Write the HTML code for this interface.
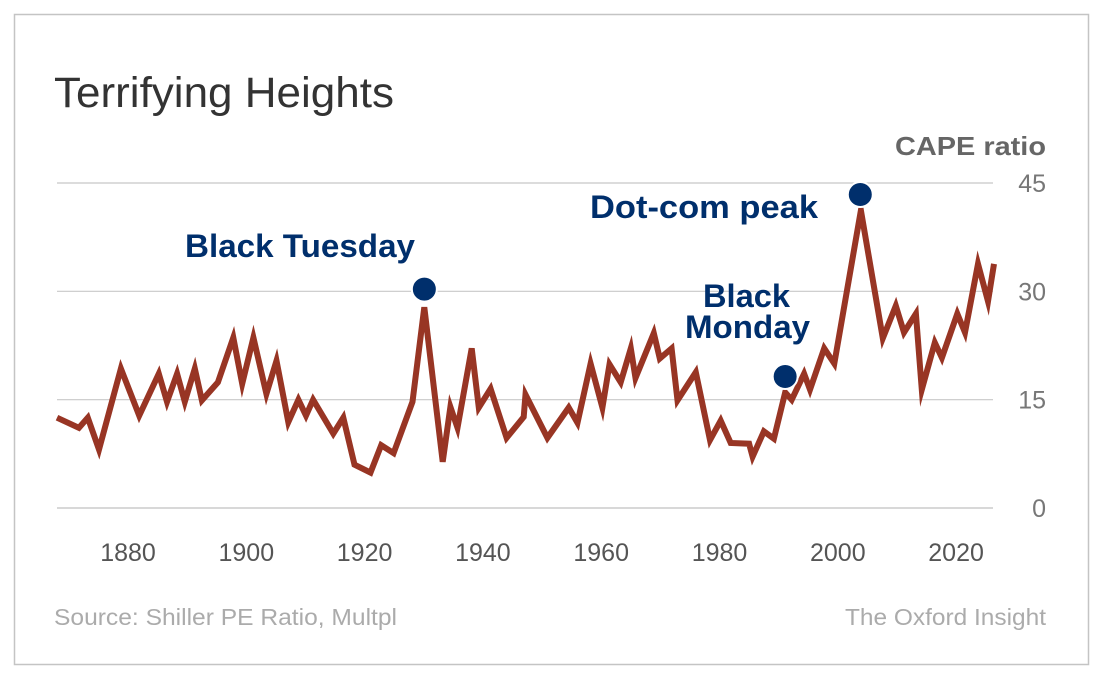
<!DOCTYPE html>
<html><head><meta charset="utf-8"><style>
html,body{margin:0;padding:0;background:#fff;}
svg{display:block;font-family:"Liberation Sans",Arial,sans-serif;}
</style></head><body>
<svg id="chart" width="1100" height="678" viewBox="0 0 1100 678">
<rect x="14.5" y="14.5" width="1074" height="650" fill="#fff" stroke="#c4c4c4" stroke-width="1.5"/>
<text x="54" y="107" font-size="43" fill="#333" textLength="340" lengthAdjust="spacingAndGlyphs">Terrifying Heights</text>
<text x="1046" y="155" font-size="26" font-weight="bold" fill="#666" text-anchor="end" textLength="151" lengthAdjust="spacingAndGlyphs">CAPE ratio</text>
<g id="grid"></g>
<g id="yticks"></g>
<g id="xticks"></g>
<path id="line" fill="none" stroke="#983524" stroke-width="6" stroke-linejoin="miter" stroke-miterlimit="6"/>
<g id="events"></g>
<text x="185" y="257" font-size="32" font-weight="bold" fill="#002f6c" textLength="230" lengthAdjust="spacingAndGlyphs">Black Tuesday</text>
<text x="590" y="218" font-size="32" font-weight="bold" fill="#002f6c" textLength="228" lengthAdjust="spacingAndGlyphs">Dot-com peak</text>
<text font-size="32" font-weight="bold" fill="#002f6c"><tspan x="703" y="307" textLength="87" lengthAdjust="spacingAndGlyphs">Black</tspan><tspan x="685" y="338" textLength="125" lengthAdjust="spacingAndGlyphs">Monday</tspan></text>
<text x="54" y="625" font-size="23" fill="#ababab" textLength="343" lengthAdjust="spacingAndGlyphs">Source: Shiller PE Ratio, Multpl</text>
<text x="1046" y="625" font-size="23" fill="#ababab" text-anchor="end" textLength="201" lengthAdjust="spacingAndGlyphs">The Oxford Insight</text>
</svg>
<script>
const years=[1868.0,1871.7,1873.2,1875.1,1878.8,1881.9,1885.2,1886.6,1888.3,1889.6,1891.3,1892.5,1895.2,1897.8,1899.3,1901.2,1903.4,1905.1,1907.1,1908.8,1910.1,1911.3,1914.7,1916.4,1918.3,1921.0,1922.8,1924.9,1928.1,1930.1,1933.2,1934.5,1935.7,1938.1,1939.3,1941.3,1944.0,1946.9,1947.2,1950.9,1954.5,1956.0,1958.2,1960.2,1961.4,1963.3,1965.0,1965.8,1968.9,1969.9,1971.9,1972.9,1976.0,1978.4,1980.2,1981.9,1985.0,1985.6,1987.5,1989.2,1991.1,1992.2,1994.3,1995.3,1997.7,1999.4,2003.9,2007.6,2009.8,2011.2,2013.2,2014.2,2016.4,2017.6,2020.2,2021.5,2023.7,2025.4,2026.4];
const cape=[12.5,11.1,12.5,8.1,19.3,12.8,18.6,14.7,18.6,14.7,19.3,14.9,17.4,23.6,17.2,23.6,15.8,20.4,11.9,15.0,12.8,15.0,10.3,12.5,6.0,4.9,8.7,7.6,14.7,27.8,6.4,14.0,11.1,22.1,13.9,16.5,9.7,12.6,15.7,9.7,13.9,11.8,20.0,13.9,19.9,17.4,22.1,18.0,24.2,20.7,22.1,14.9,18.8,9.4,12.1,9.0,8.9,7.1,10.6,9.6,16.0,15.0,18.6,16.4,22.1,20.0,41.2,23.5,28.0,24.3,26.9,16.4,22.9,20.8,26.9,24.3,33.8,28.6,33.8];
const eventYears=[1930.1,1991.1,2003.8];
const eventValues=[30.3,18.2,43.4];
const yTicks=[0,15,30,45];
const xTicks=[1880,1900,1920,1940,1960,1980,2000,2020];
const NS='http://www.w3.org/2000/svg';
const xs=y=>128+(y-1880)*5.915;
const ys=v=>508-v*(325/45);
function mk(tag,attrs,parent){const e=document.createElementNS(NS,tag);for(const k in attrs)e.setAttribute(k,attrs[k]);parent.appendChild(e);return e;}
const grid=document.getElementById('grid'),yt=document.getElementById('yticks'),xt=document.getElementById('xticks');
yTicks.forEach(v=>{
  const l=mk('line',{x1:57,x2:993,y1:ys(v),y2:ys(v),stroke:v===0?'#d8d8d8':'#c8c8c8','stroke-width':v===0?2:1.2},grid);
  
  
  const t=mk('text',{x:1046,y:ys(v)+9,'font-size':25,fill:'#777','text-anchor':'end'},yt);
  t.textContent=v;
  
  
});
xTicks.forEach(v=>{
  const t=mk('text',{x:xs(v),y:561,'font-size':25,fill:'#555','text-anchor':'middle'},xt);
  t.textContent=v;
  
  
});
document.getElementById('line').setAttribute('d',years.map((y,i)=>(i?'L':'M')+xs(y).toFixed(1)+','+ys(cape[i]).toFixed(1)).join(''));
const ev=document.getElementById('events');
eventYears.forEach((y,i)=>{
  const c=mk('circle',{cx:xs(y),cy:ys(eventValues[i]),r:12.5,fill:'#002f6c',stroke:'#fff','stroke-width':2},ev);
  
  
});
</script>
</body></html>
